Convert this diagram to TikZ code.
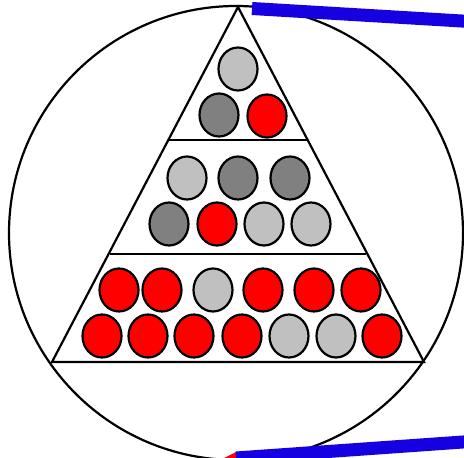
\documentclass[tikz,border=0pt]{standalone}
\usetikzlibrary{shapes.geometric}
\definecolor{lg}{HTML}{C0C0C0}
\definecolor{dg}{HTML}{808080}
\definecolor{rd}{HTML}{FF0000}
\definecolor{bl}{RGB}{20,0,224}
\begin{document}
\begin{tikzpicture}[x=1pt,y=-1pt,
  ball/.style={ellipse,draw=black,line width=2.2pt,minimum width=39pt,minimum height=43pt,inner sep=0pt},
  L/.style={ball,fill=lg}, D/.style={ball,fill=dg}, R/.style={ball,fill=rd},
  frame/.style={draw=black,line width=2.2pt},
  bar/.style={draw=bl,line width=13pt}]
\useasboundingbox (0,0) rectangle (464,458);
\draw[frame] (236,233) circle (227);
\coordinate (apex) at (238,7);
\coordinate (bl) at (52,362);
\coordinate (br) at (424,362);
\draw[frame,line join=miter] (apex) -- (bl) -- (br) -- cycle;
\draw[frame] (168,140) -- (308,140);
\draw[frame] (110,254) -- (366,254);
% top tier
\node[L] (t1) at (238,69) {};
\node[D] (t2) at (219,115) {};
\node[R] (t3) at (267,116) {};
% middle tier
\node[L] (m1) at (187,178) {};
\node[D] (m2) at (238,178) {};
\node[D] (m3) at (290,178) {};
\node[D] (m4) at (169,224) {};
\node[R] (m5) at (217,224) {};
\node[L] (m6) at (264,224) {};
\node[L] (m7) at (311,224) {};
% bottom tier
\node[R] (b1) at (119,290) {};
\node[R] (b2) at (162,290) {};
\node[L] (b3) at (213,290) {};
\node[R] (b4) at (263,290) {};
\node[R] (b5) at (314,290) {};
\node[R] (b6) at (361,290) {};
\node[R] (c1) at (102,336) {};
\node[R] (c2) at (148,336) {};
\node[R] (c3) at (194,336) {};
\node[R] (c4) at (242,336) {};
\node[L] (c5) at (289,336) {};
\node[L] (c6) at (336,336) {};
\node[R] (c7) at (382,336) {};
% blue bars
\coordinate (u1) at (252,8.5);
\coordinate (u2) at (470,21.5);
\draw[bar] (u1) -- (u2);
\coordinate (d1) at (236,458);
\coordinate (d2) at (470,441.5);
\fill[rd] (224,458) -- (236,452) -- (236,458) -- cycle;
\draw[bar] (d1) -- (d2);
\end{tikzpicture}
\end{document}
